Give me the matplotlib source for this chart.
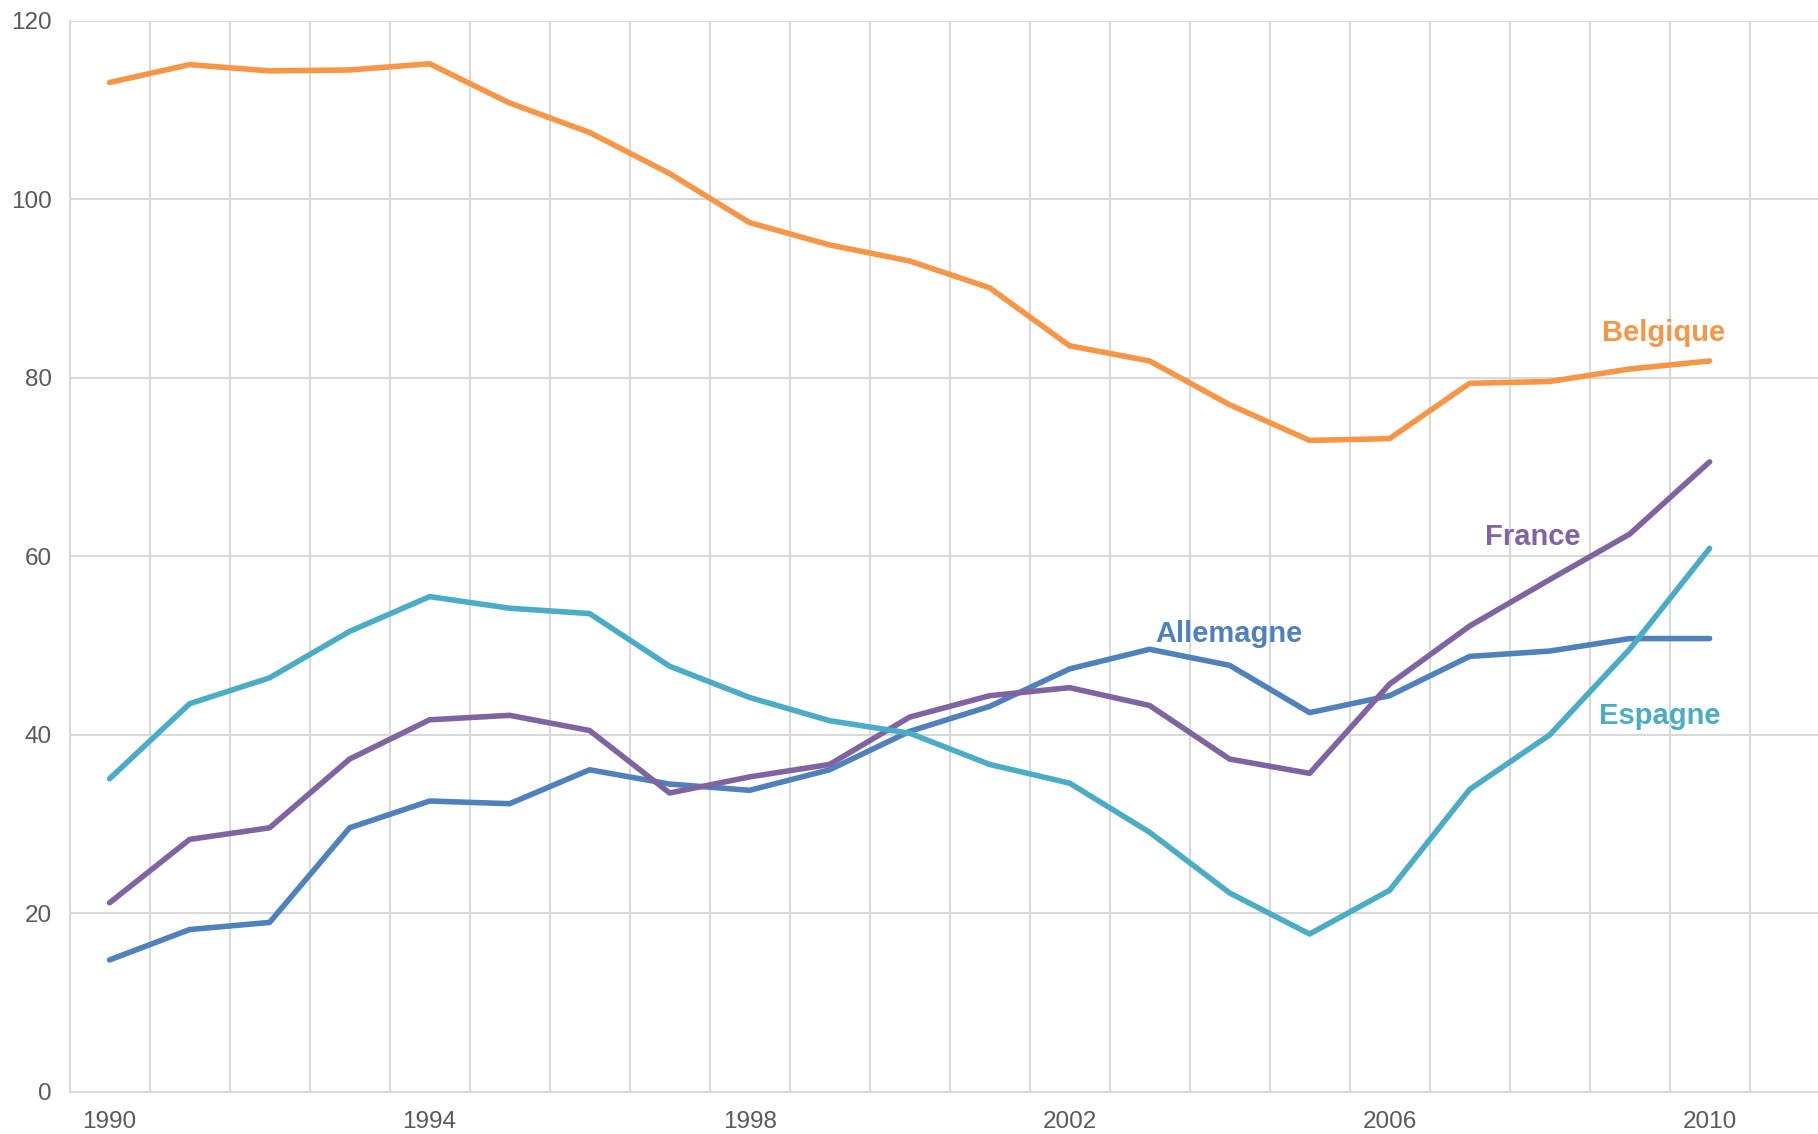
import matplotlib
matplotlib.use("Agg")
import matplotlib.pyplot as plt
import numpy as np

years = list(range(1990, 2011))
belgique = [113.1, 115.1, 114.4, 114.5, 115.2, 110.8, 107.5, 102.9, 97.4, 94.9, 93.1,
            90.1, 83.6, 81.9, 77.0, 73.0, 73.2, 79.4, 79.6, 81.0, 81.9]
allemagne = [14.8, 18.2, 19.0, 29.6, 32.6, 32.3, 36.1, 34.5, 33.8, 36.1, 40.4,
             43.2, 47.4, 49.6, 47.8, 42.5, 44.4, 48.8, 49.4, 50.8, 50.8]
france = [21.2, 28.3, 29.6, 37.3, 41.7, 42.2, 40.5, 33.5, 35.3, 36.7, 42.0,
          44.4, 45.3, 43.3, 37.3, 35.7, 45.7, 52.2, 57.4, 62.5, 70.6]
espagne = [35.1, 43.5, 46.4, 51.6, 55.5, 54.2, 53.6, 47.7, 44.2, 41.6, 40.2,
           36.7, 34.6, 29.1, 22.3, 17.7, 22.6, 33.9, 40.0, 49.6, 60.9]

series_names = ["Belgique", "Allemagne", "France", "Espagne"]
series_values = [belgique, allemagne, france, espagne]
colors = ["#F79646", "#4F81BD", "#8064A2", "#4BACC6"]
label_pos = [(2009.43, 85.0), (2003.99, 51.3), (2007.79, 62.2), (2009.38, 42.1)]

x_tick_years = [1990, 1994, 1998, 2002, 2006, 2010]
y_ticks = [0, 20, 40, 60, 80, 100, 120]

plt.rcParams['font.family'] = ['Liberation Sans', 'DejaVu Sans']

fig = plt.figure(figsize=(18.18, 11.34), dpi=100)
ax = fig.add_axes([69.6 / 1818, 42 / 1134, 1 - 69.6 / 1818, (1092 - 20.9) / 1134])

grid_color = "#D9D9D9"
for name, vals, c, (lx, ly) in zip(series_names, series_values, colors, label_pos):
    ax.plot(years, vals, color=c, lw=4.0, solid_capstyle='round', solid_joinstyle='round', zorder=3)
    ax.text(lx, ly, name, color=c, fontsize=21, fontweight='bold', ha='center', va='center', zorder=4)

ax.set_xlim(1989.5, 1989.5 + (1818 - 69.6) / 80)
ax.set_ylim(0, 120)
ax.set_yticks(y_ticks)
ax.set_xticks(x_tick_years)
ax.set_xticks([y + 0.5 for y in range(1990, 2011)], minor=True)
ax.tick_params(axis='both', which='both', length=0, labelsize=17.5, labelcolor="#595959")
ax.tick_params(axis='y', pad=13)
ax.tick_params(axis='x', pad=14)

ax.grid(axis='y', which='major', color=grid_color, lw=1.5, zorder=0)
ax.grid(axis='x', which='minor', color=grid_color, lw=1.5, zorder=0)
ax.grid(axis='x', which='major', visible=False)
for s in ['top', 'right']:
    ax.spines[s].set_visible(False)
for s in ['left', 'bottom']:
    ax.spines[s].set_color(grid_color)
    ax.spines[s].set_linewidth(1.5)

fig.savefig("out.png", dpi=100)
